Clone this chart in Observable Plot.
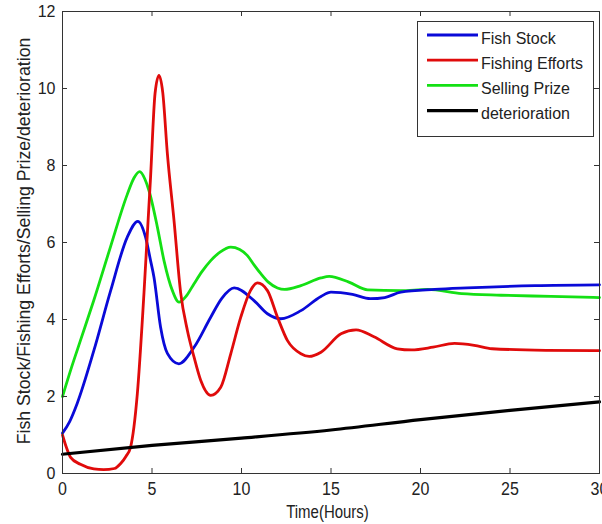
<!DOCTYPE html>
<html><head><meta charset="utf-8">
<script src="https://cdn.jsdelivr.net/npm/d3@7"></script>
<script src="https://cdn.jsdelivr.net/npm/@observablehq/plot@0.6"></script>
<style>body{margin:0;background:#fff} svg{display:block}</style>
</head><body><div id="chart"></div>
<script>
const seriesNames = ["Fish Stock", "Fishing Efforts", "Selling Prize", "deterioration"];
const seriesColors = ["#0a0ad8", "#e00b0b", "#14e014", "#000000"];

const stockT = [0, 0.4, 0.82, 1.75, 2.69, 3.62, 4.21, 4.64, 4.92, 5.11, 5.48, 5.86, 6.5, 7.35, 8.28, 8.9, 9.59, 10.7, 11.45, 12.2, 13.32, 14.44, 15.0, 16.2, 17.2, 18.0, 18.9, 20.8, 22.6, 26.4, 30];
const stockV = [1.05, 1.35, 1.82, 3.19, 4.75, 6.14, 6.55, 6.14, 5.53, 5.1, 3.8, 3.12, 2.85, 3.28, 4.06, 4.55, 4.82, 4.49, 4.15, 4.02, 4.23, 4.6, 4.71, 4.65, 4.54, 4.57, 4.71, 4.78, 4.82, 4.88, 4.9];

const effortT = [0, 0.2, 0.45, 1.0, 1.75, 2.3, 2.9, 3.25, 3.55, 3.8, 4.18, 4.55, 4.92, 5.17, 5.39, 5.6, 5.86, 6.23, 6.6, 6.98, 7.35, 7.72, 8.28, 8.84, 9.4, 9.96, 10.5, 10.89, 11.45, 12.01, 12.57, 13.32, 13.78, 14.44, 15.56, 16.4, 17.4, 18.7, 19.5, 20.7, 21.9, 23, 24, 27, 30];
const effortV = [1.0, 0.7, 0.42, 0.24, 0.12, 0.1, 0.13, 0.26, 0.45, 0.68, 2.07, 4.67, 7.7, 9.87, 10.34, 9.9, 8.3, 6.57, 4.7, 3.71, 3.02, 2.42, 2.03, 2.24, 3.11, 4.06, 4.75, 4.95, 4.75, 4.06, 3.45, 3.11, 3.04, 3.15, 3.63, 3.73, 3.55, 3.24, 3.21, 3.28, 3.38, 3.33, 3.24, 3.2, 3.19];

const prizeT = [0, 0.5, 1.0, 1.75, 2.69, 3.62, 4.0, 4.31, 4.6, 4.83, 5.3, 5.67, 6.14, 6.51, 6.9, 7.35, 7.8, 8.28, 8.8, 9.4, 9.9, 10.33, 10.7, 11.08, 11.5, 12.01, 12.4, 13.32, 14.44, 14.9, 16.0, 17.05, 18.9, 20.4, 22.3, 24.5, 27.3, 30];
const prizeV = [2.0, 2.75, 3.45, 4.5, 5.9, 7.25, 7.68, 7.84, 7.65, 7.35, 6.4, 5.53, 4.75, 4.45, 4.6, 4.93, 5.25, 5.53, 5.75, 5.88, 5.82, 5.66, 5.42, 5.19, 4.97, 4.82, 4.78, 4.88, 5.08, 5.12, 4.97, 4.77, 4.75, 4.78, 4.67, 4.63, 4.6, 4.57];

const deterT = [0, 5, 10, 15, 20, 25, 30];
const deterV = [0.5, 0.73, 0.92, 1.13, 1.4, 1.64, 1.86];

const xTicks = [0, 5, 10, 15, 20, 25, 30];
const yTicks = [0, 2, 4, 6, 8, 10, 12];
const xLabel = "Time(Hours)";
const yLabel = "Fish Stock/Fishing Efforts/Selling Prize/deterioration";

const rows = (name, ts, vs) => ts.map((t, i) => ({series: name, t, v: vs[i]}));
const stockRows = rows(seriesNames[0], stockT, stockV);
const effortRows = rows(seriesNames[1], effortT, effortV);
const prizeRows = rows(seriesNames[2], prizeT, prizeV);
const deterRows = rows(seriesNames[3], deterT, deterV);

const W = 602, H = 524, mL = 62, mR = 3, mT = 11, mB = 51;
const iw = W - mL - mR, ih = H - mT - mB;
const frameColor = "#333";
const font = "'Liberation Sans', Arial, sans-serif";

const lineOpts = (w) => ({x: "t", y: "v", stroke: "series", strokeWidth: w, curve: "monotone-x"});

const chart = Plot.plot({
  width: W, height: H,
  marginLeft: mL, marginRight: mR, marginTop: mT, marginBottom: mB,
  style: {fontFamily: font, fontSize: "16px", color: "#222", background: "#fff"},
  x: {domain: [0, 30]},
  y: {domain: [0, 12]},
  color: {domain: seriesNames, range: seriesColors},
  marks: [
    Plot.line(prizeRows, lineOpts(2.8)),
    Plot.line(stockRows, lineOpts(2.8)),
    Plot.line(effortRows, lineOpts(2.8)),
    Plot.line(deterRows, lineOpts(3.2)),
    Plot.frame({stroke: frameColor, strokeWidth: 1}),
    Plot.ruleX(xTicks, {x: d => d, insetTop: ih - 5, stroke: frameColor}),
    Plot.ruleX(xTicks, {x: d => d, insetBottom: ih - 5, stroke: frameColor}),
    Plot.ruleY(yTicks, {y: d => d, insetRight: iw - 5, stroke: frameColor}),
    Plot.ruleY(yTicks, {y: d => d, insetLeft: iw - 5, stroke: frameColor}),
    Plot.axisX({ticks: xTicks, tickSize: 0, tickPadding: 8, label: null, fontSize: 16}),
    Plot.axisY({ticks: yTicks, tickSize: 0, tickPadding: 7, label: null, fontSize: 16})
  ]
});
document.getElementById("chart").appendChild(chart);

const svg = d3.select(chart);
// vertically stretched x tick labels, like the reference
svg.selectAll('g[aria-label="x-axis tick label"] text').each(function() {
  const t = d3.select(this);
  t.attr("transform", (t.attr("transform") || "") + " scale(1,1.2)");
});

// axis titles
svg.append("text")
  .attr("transform", `translate(327.5,518) scale(1,1.2)`)
  .attr("text-anchor", "middle")
  .attr("font-family", font).attr("font-size", 15).attr("fill", "#222")
  .text(xLabel);
svg.append("text")
  .attr("transform", `translate(30,241) rotate(-90)`)
  .attr("text-anchor", "middle")
  .attr("font-family", font).attr("font-size", 17.7).attr("fill", "#222")
  .text(yLabel);

// legend box
const lg = svg.append("g");
lg.append("rect").attr("x", 417.5).attr("y", 21.5).attr("width", 176).attr("height", 115)
  .attr("fill", "#fff").attr("stroke", frameColor).attr("stroke-width", 1);
seriesNames.forEach((name, i) => {
  const cy = 35 + i * 25.2;
  lg.append("line").attr("x1", 427).attr("x2", 478).attr("y1", cy).attr("y2", cy)
    .attr("stroke", seriesColors[i]).attr("stroke-width", i === 3 ? 3.2 : 2.8);
  lg.append("text").attr("x", 481).attr("y", cy + 8.5)
    .attr("text-anchor", "start")
    .attr("font-family", font).attr("font-size", 16).attr("fill", "#222")
    .text(name);
});
</script>
</body></html>
